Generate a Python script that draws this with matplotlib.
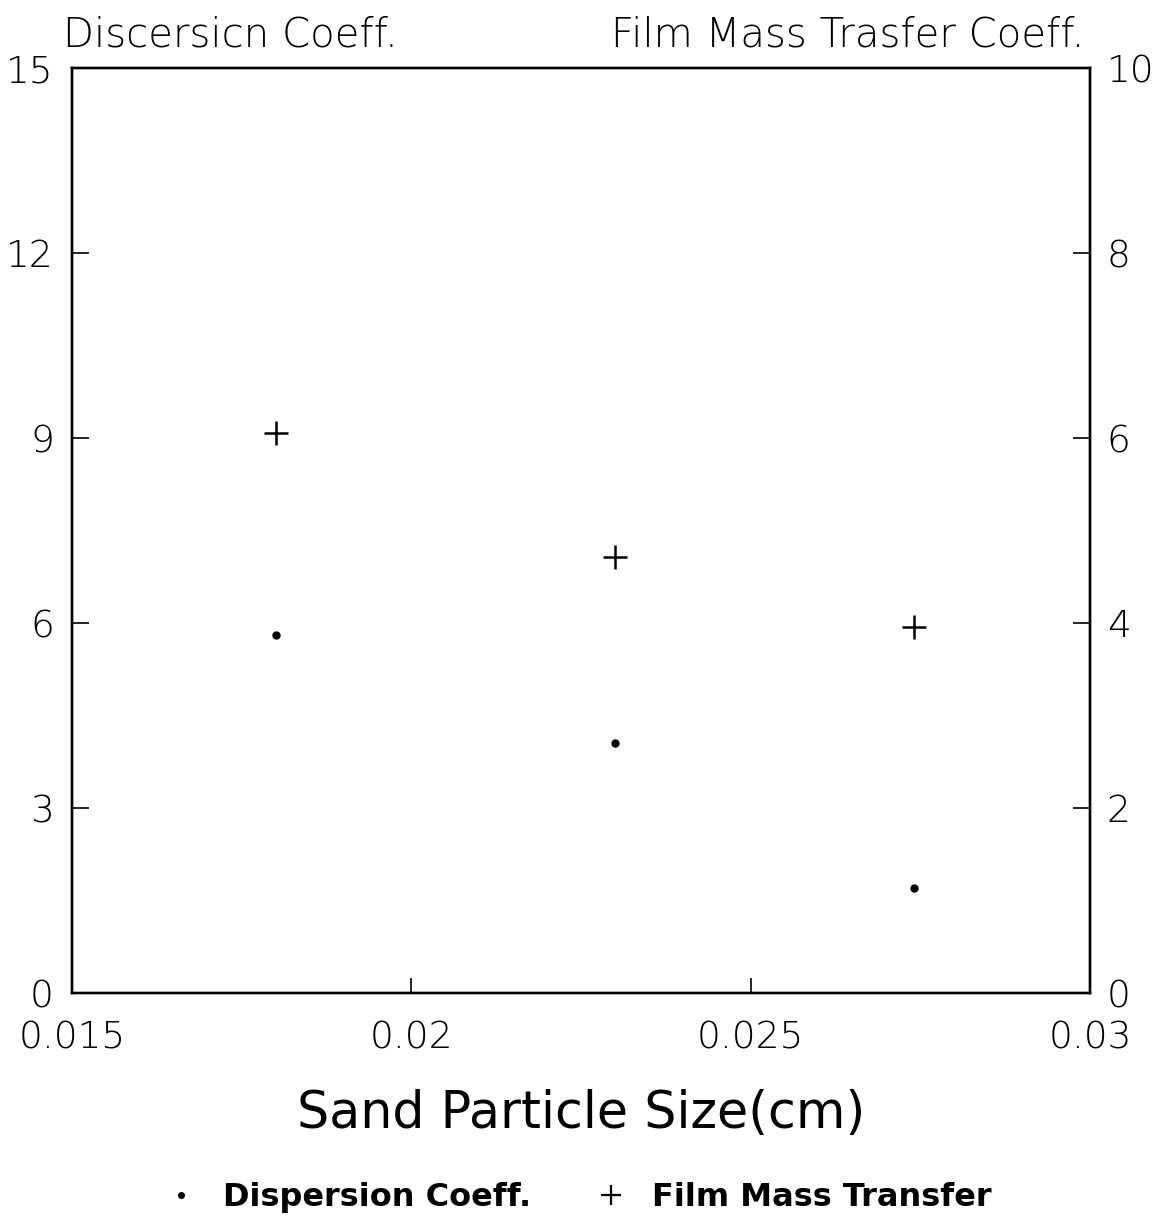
import matplotlib.pyplot as plt
from matplotlib.lines import Line2D

# sand particle size (cm)
sizes = [0.018, 0.023, 0.0274]
# dispersion coefficient (left axis)
dispersion = [5.8, 4.05, 1.7]
# film mass transfer coefficient (right axis)
film_mass = [6.05, 4.71, 3.96]

x_ticks = [0.015, 0.02, 0.025, 0.03]
x_tick_labels = ['0.015', '0.02', '0.025', '0.03']
left_ticks = [0, 3, 6, 9, 12, 15]
right_ticks = [0, 2, 4, 6, 8, 10]

plt.rcParams['font.family'] = ['DejaVu Sans']
plt.rcParams['font.weight'] = 'light'

fig = plt.figure(figsize=(11.59, 12.24), dpi=100)
ax = fig.add_axes([0.0621, 0.1887, 0.8784, 0.7557])
ax2 = ax.twinx()

ax.plot(sizes, dispersion, 'o', color='black', markersize=5, linestyle='none')
ax2.plot(sizes, film_mass, '+', color='black', markersize=17, markeredgewidth=1.8,
         linestyle='none')

ax.set_xlim(0.015, 0.03)
ax.set_ylim(0, 15)
ax2.set_ylim(0, 10)

ax.set_xticks(x_ticks)
ax.set_xticklabels(x_tick_labels)
ax.set_yticks(left_ticks)
ax2.set_yticks(right_ticks)

ax.tick_params(axis='x', direction='in', length=11, width=1.2, labelsize=27, pad=20)
ax.tick_params(axis='y', direction='in', length=12, width=1.2, labelsize=27, pad=13)
ax2.tick_params(axis='y', direction='in', length=12, width=1.2, labelsize=27, pad=12)

# hide the end ticks, keep their labels
for t in ax.xaxis.get_major_ticks()[::3]:
    t.tick1line.set_visible(False)
for t in [ax.yaxis.get_major_ticks()[0], ax.yaxis.get_major_ticks()[-1]]:
    t.tick1line.set_visible(False)
for t in [ax2.yaxis.get_major_ticks()[0], ax2.yaxis.get_major_ticks()[-1]]:
    t.tick2line.set_visible(False)

for a in (ax, ax2):
    for s in a.spines.values():
        s.set_linewidth(1.7)

ax.set_xlabel('Sand Particle Size(cm)', fontsize=36.5, labelpad=24)

fig.text(0.054, 0.971, 'Discersicn Coeff.', fontsize=29, ha='left', va='center')
fig.text(0.936, 0.971, 'Film Mass Trasfer Coeff.', fontsize=29, ha='right', va='center')

# legend along the bottom
handles = [
    Line2D([], [], marker='o', color='black', markersize=4, linestyle='none'),
    Line2D([], [], marker='+', color='black', markersize=15, markeredgewidth=1.6,
           linestyle='none'),
]
fig.legend(handles, ['Dispersion Coeff.', 'Film Mass Transfer'],
           loc='center', bbox_to_anchor=(0.499, 0.0215), ncol=2, frameon=False,
           prop={'size': 23, 'weight': 'bold'},
           handlelength=1.0, columnspacing=2.0, handletextpad=0.8)

fig.savefig('out.png', dpi=100)
